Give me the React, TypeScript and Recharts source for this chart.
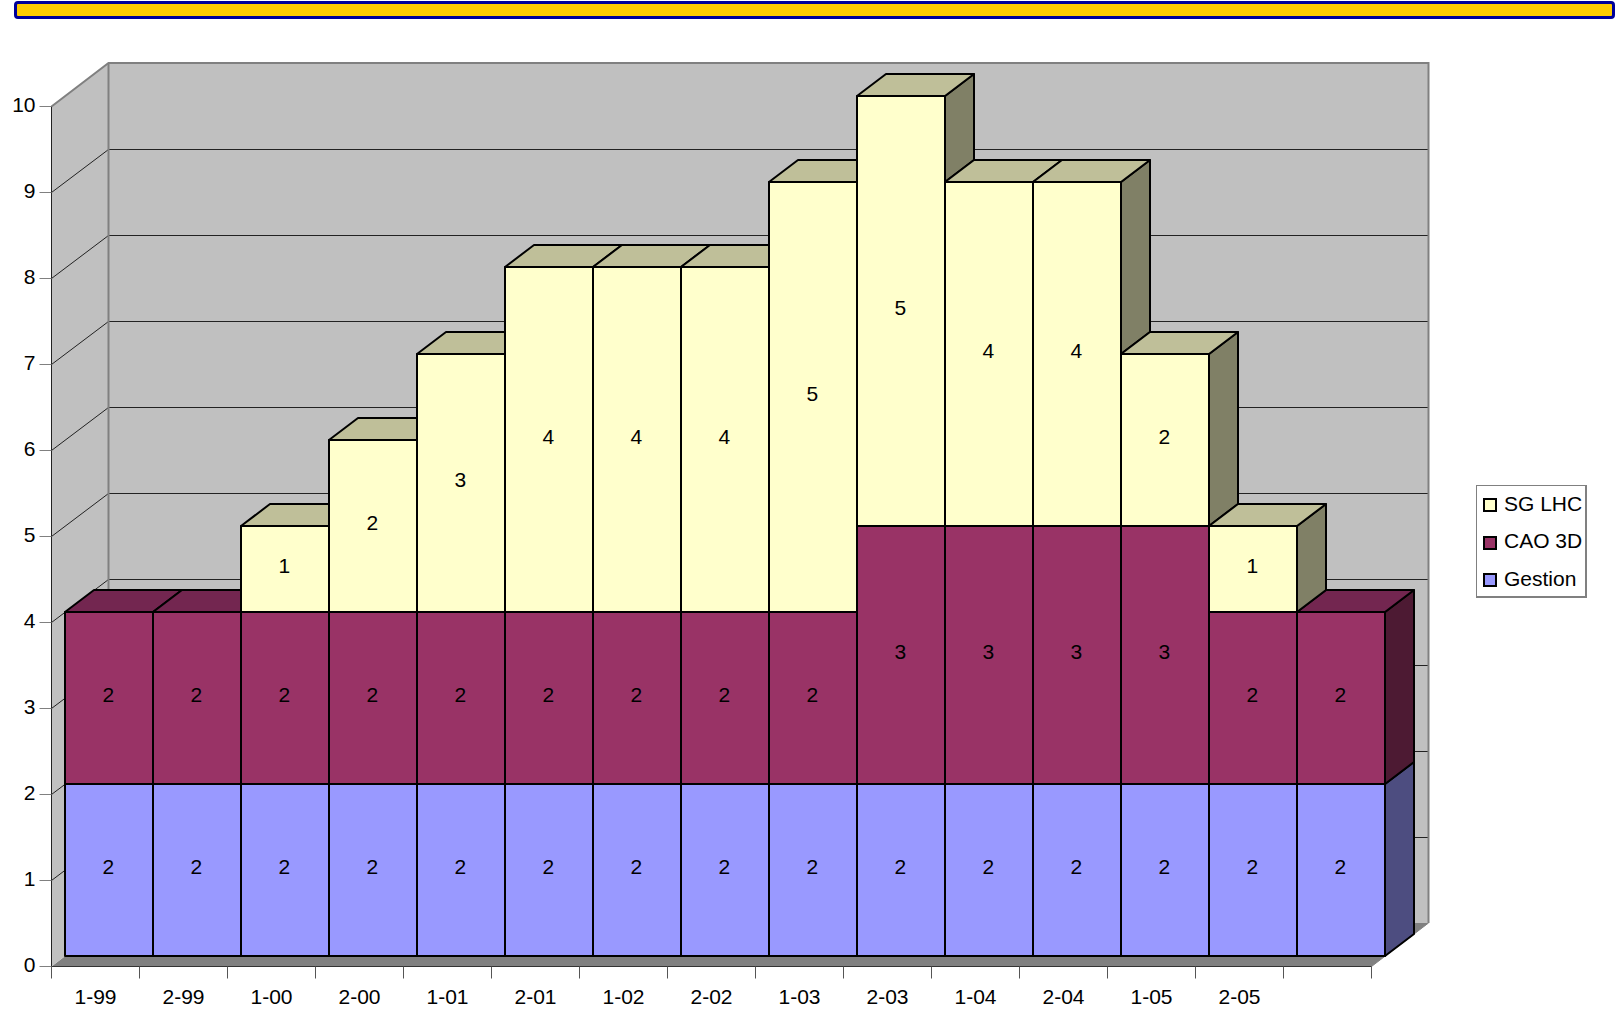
import { Bar, BarChart, Legend, ReferenceArea, XAxis, YAxis } from "recharts"

const periods = ["1-99", "2-99", "1-00", "2-00", "1-01", "2-01", "1-02", "2-02", "1-03", "2-03", "1-04", "2-04", "1-05", "2-05", " "]
const gestion = [2, 2, 2, 2, 2, 2, 2, 2, 2, 2, 2, 2, 2, 2, 2]
const cao3d = [2, 2, 2, 2, 2, 2, 2, 2, 2, 3, 3, 3, 3, 2, 2]
const sgLhc = [0, 0, 1, 2, 3, 4, 4, 4, 5, 5, 4, 4, 2, 1, 0]
const yTicks = [0, 1, 2, 3, 4, 5, 6, 7, 8, 9, 10]

const data = periods.map((period, i) => ({
  period,
  gestion: gestion[i],
  cao3d: cao3d[i],
  sgLhc: sgLhc[i],
}))

const totals = periods.map((_, i) => gestion[i] + cao3d[i] + sgLhc[i])

// 3D look, all in px
const FONT = "'Liberation Sans', Arial, sans-serif"
const WALL_DX = 57
const WALL_DY = 43.5
const BAR_DX = 13.4
const BAR_DY = 11
const DEPTH_DX = 29
const DEPTH_DY = 22

const tops: Record<string, string> = { "#FFFFCC": "#BFBF99", "#993366": "#732650", "#9999FF": "#7373BF" }
const sides: Record<string, string> = { "#FFFFCC": "#808066", "#993366": "#4D1A33", "#9999FF": "#4D4D80" }

function Walls(props: any) {
  const { x, y, width, height } = props
  const bottom = y + height
  const right = x + width
  return (
    <g>
      <polygon
        points={`${x},${bottom} ${x + WALL_DX},${bottom - WALL_DY} ${right + WALL_DX},${bottom - WALL_DY} ${right},${bottom}`}
        fill="#808080"
      />
      <polygon
        points={`${x},${y} ${x + WALL_DX},${y - WALL_DY} ${x + WALL_DX},${bottom - WALL_DY} ${x},${bottom}`}
        fill="#C0C0C0"
      />
      <rect x={x + WALL_DX} y={y - WALL_DY} width={width} height={height} fill="#C0C0C0" />
      {yTicks
        .filter((t) => t > 0 && t < 10)
        .map((t) => {
          const ly = bottom - (height * t) / 10
          const backY = Math.round(ly - WALL_DY) + 0.5
          return (
            <polyline
              key={t}
              points={`${x},${ly} ${x + WALL_DX},${backY} ${right + WALL_DX},${backY}`}
              fill="none"
              stroke="#222222"
              strokeWidth={1}
            />
          )
        })}
      <polyline
        points={`${x},${y} ${x + WALL_DX},${y - WALL_DY} ${right + WALL_DX},${y - WALL_DY} ${right + WALL_DX},${bottom - WALL_DY}`}
        fill="none"
        stroke="#808080"
        strokeWidth={2}
      />
      <line x1={x + WALL_DX} y1={y - WALL_DY} x2={x + WALL_DX} y2={bottom - WALL_DY} stroke="#808080" strokeWidth={2} />
      <line x1={x} y1={y} x2={x} y2={bottom} stroke="#222222" strokeWidth={1} />
      <line x1={right} y1={bottom} x2={right + WALL_DX} y2={bottom - WALL_DY} stroke="#808080" strokeWidth={1} />
    </g>
  )
}

function makeBox(values: number[], isTop: (i: number) => boolean, base: (i: number) => number) {
  return function Box(props: any) {
    const { x, y, width, height, index, fill } = props
    const value = values[index]
    if (!value || height <= 0) return <g />
    const unit = height / value
    const left = Math.round(x + BAR_DX)
    const right = Math.round(x + BAR_DX + width)
    const top = Math.round(y - BAR_DY)
    const bottom = Math.round(y - BAR_DY + height)
    const ownBottom = base(index)
    const ownTop = ownBottom + value
    const next = index < values.length - 1 ? totals[index + 1] : 0
    const sideFrom = Math.max(ownBottom, next)
    const sideBottom = top + (ownTop - sideFrom) * unit
    return (
      <g stroke="#000000" strokeWidth={2} strokeLinejoin="round">
        {sideFrom < ownTop && (
          <polygon
            points={`${right},${top} ${right + DEPTH_DX},${top - DEPTH_DY} ${right + DEPTH_DX},${sideBottom - DEPTH_DY} ${right},${sideBottom}`}
            fill={sides[fill]}
          />
        )}
        {isTop(index) && (
          <polygon
            points={`${left},${top} ${left + DEPTH_DX},${top - DEPTH_DY} ${right + DEPTH_DX},${top - DEPTH_DY} ${right},${top}`}
            fill={tops[fill]}
          />
        )}
        <rect x={left} y={top} width={right - left} height={bottom - top} fill={fill} />
        <text
          x={x + BAR_DX + width / 2 - 0.5}
          y={y - BAR_DY + height / 2 - 3}
          textAnchor="middle"
          dominantBaseline="central"
          fontSize={21}
          fontFamily={FONT}
          fill="#000000"
          stroke="none"
        >
          {value}
        </text>
      </g>
    )
  }
}

const GestionBox = makeBox(gestion, () => false, () => 0)
const CaoBox = makeBox(cao3d, (i) => sgLhc[i] === 0, (i) => gestion[i])
const SgBox = makeBox(sgLhc, () => true, (i) => gestion[i] + cao3d[i])

function PeriodTick(props: any) {
  const { x, y, index, width, visibleTicksCount, payload } = props
  const slot = width / visibleTicksCount
  const tickTop = 966.5
  return (
    <g>
      <line x1={x - slot / 2} y1={tickTop} x2={x - slot / 2} y2={tickTop + 12} stroke="#555555" />
      {index === visibleTicksCount - 1 && (
        <line x1={x + slot / 2} y1={tickTop} x2={x + slot / 2} y2={tickTop + 12} stroke="#555555" />
      )}
      <text x={x} y={y + 22} textAnchor="middle" dominantBaseline="central" fontSize={21} fontFamily={FONT} fill="#000000">
        {payload.value}
      </text>
    </g>
  )
}

function LegendBox(props: any) {
  const items = [...(props.payload ?? [])].reverse()
  return (
    <div
      style={{
        width: 111,
        height: 113,
        boxSizing: "border-box",
        border: "1px solid #808080",
        borderRightWidth: 2,
        borderBottomWidth: 2,
        background: "#FFFFFF",
        fontFamily: FONT,
        fontSize: 21,
        color: "#000000",
      }}
    >
      {items.map((item: any) => (
        <div
          key={item.value}
          style={{ display: "flex", alignItems: "center", height: 37.5, whiteSpace: "nowrap", position: "relative", top: -1 }}
        >
          <span
            style={{
              display: "inline-block",
              width: 14,
              height: 14,
              boxSizing: "border-box",
              margin: "3px 7px 0 6px",
              border: "2px solid #000000",
              background: item.color,
            }}
          />
          {item.value}
        </div>
      ))}
    </div>
  )
}

export default function App() {
  return (
    <div style={{ position: "absolute", left: 0, top: 0, width: 1617, height: 1013, background: "#FFFFFF" }}>
      <div
        style={{
          position: "absolute",
          left: 14,
          top: 1,
          width: 1601,
          height: 18,
          boxSizing: "border-box",
          background: "#FFCC00",
          border: "3px solid #000099",
          borderRadius: 4,
        }}
      />
      <BarChart
        width={1617}
        height={1013}
        data={data}
        barCategoryGap={0}
        margin={{ top: 106.5, right: 245.5, bottom: 0, left: 0 }}
        style={{ fontFamily: FONT, position: "absolute", left: 0, top: 0 }}
      >
        <ReferenceArea y1={0} y2={10} shape={Walls} ifOverflow="visible" />
        <XAxis
          dataKey="period"
          interval={0}
          height={46.5}
          tick={PeriodTick}
          tickLine={false}
          axisLine={{ stroke: "#333333" }}
        />
        <YAxis
          width={51.5}
          domain={[0, 10]}
          ticks={yTicks}
          interval={0}
          tickSize={12}
          tickMargin={4}
          tick={{ fontSize: 21, fontFamily: FONT, fill: "#000000", dy: -1.5 }}
          tickLine={{ stroke: "#808080" }}
          axisLine={false}
        />
        <Legend
          layout="vertical"
          align="center"
          verticalAlign="middle"
          itemSorter={null}
          content={LegendBox}
          wrapperStyle={{ position: "absolute", left: 1476, top: 485, width: 111, height: 113 }}
        />
        <Bar dataKey="gestion" name="Gestion" stackId="a" fill="#9999FF" shape={GestionBox} isAnimationActive={false} />
        <Bar dataKey="cao3d" name="CAO 3D" stackId="a" fill="#993366" shape={CaoBox} isAnimationActive={false} />
        <Bar dataKey="sgLhc" name="SG LHC" stackId="a" fill="#FFFFCC" shape={SgBox} isAnimationActive={false} />
      </BarChart>
    </div>
  )
}
